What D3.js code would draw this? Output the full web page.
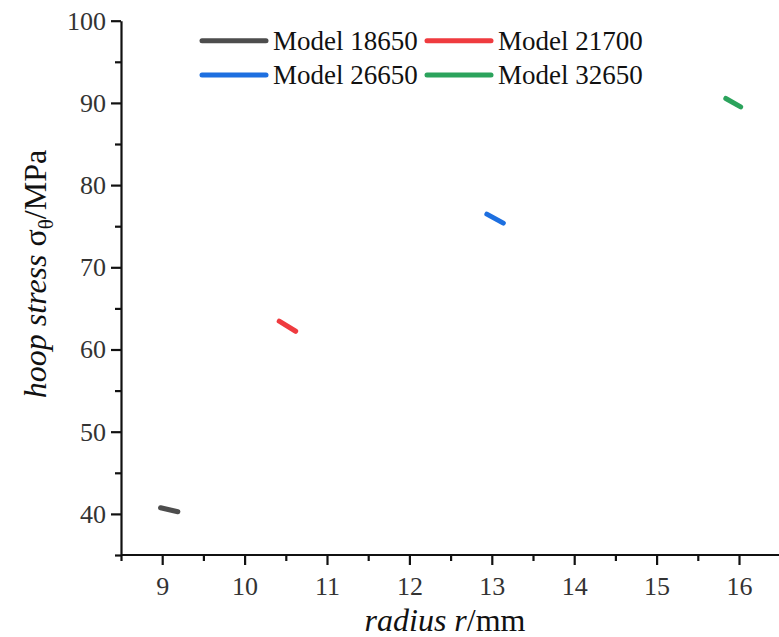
<!DOCTYPE html>
<html>
<head>
<meta charset="utf-8">
<script src="https://cdn.jsdelivr.net/npm/d3@7"></script>
<style>
  body { margin: 0; background: #fff; }
  svg { display: block; font-family: "Liberation Serif", "Times New Roman", serif; }
  .axis path, .axis line { stroke: #111; stroke-width: 2.2; }
</style>
</head>
<body>
<div id="chart"></div>
<script>
// data: [radius mm, hoop stress MPa]
const modelNames = ['Model 18650', 'Model 21700', 'Model 26650', 'Model 32650'];
const modelColors = ['#4d4d4d', '#ef3b3f', '#1d6fe0', '#2ba35c'];
const model18650 = [[8.98, 40.75], [9.19, 40.26]];
const model21700 = [[10.42, 63.44], [10.62, 62.22]];
const model26650 = [[12.94, 76.47], [13.14, 75.37]];
const model32650 = [[15.84, 90.54], [16.02, 89.51]];
const seriesData = [model18650, model21700, model26650, model32650];

const xTicks = [9, 10, 11, 12, 13, 14, 15, 16];
const xMinor = [8.5, 9.5, 10.5, 11.5, 12.5, 13.5, 14.5, 15.5, 16.5];
const yTicks = [40, 50, 60, 70, 80, 90, 100];
const yMinor = [35, 45, 55, 65, 75, 85, 95];

const width = 779, height = 637;
const margin = {top: 20.7, right: 0, bottom: 82, left: 121};

const svg = d3.select('#chart').append('svg')
    .attr('width', width)
    .attr('height', height);

const x = d3.scaleLinear().domain([8.5, 16.5]).range([margin.left, margin.left + 8 * 82.4]);
const y = d3.scaleLinear().domain([35, 100]).range([height - margin.bottom, margin.top]);

// minor ticks first, no labels
svg.append('g')
    .attr('class', 'axis')
    .attr('transform', `translate(0,${y(35)})`)
    .call(d3.axisBottom(x).tickValues(xMinor).tickSize(6).tickFormat(''))
    .call(g => g.select('.domain').remove());

svg.append('g')
    .attr('class', 'axis')
    .attr('transform', `translate(${x(8.5)},0)`)
    .call(d3.axisLeft(y).tickValues(yMinor).tickSize(6).tickFormat(''))
    .call(g => g.select('.domain').remove());

const xAxis = svg.append('g')
    .attr('class', 'axis')
    .attr('transform', `translate(0,${y(35)})`)
    .call(d3.axisBottom(x).tickValues(xTicks).tickSize(10).tickPadding(12).tickSizeOuter(0));

const yAxis = svg.append('g')
    .attr('class', 'axis')
    .attr('transform', `translate(${x(8.5)},0)`)
    .call(d3.axisLeft(y).tickValues(yTicks).tickSize(10).tickPadding(5).tickSizeOuter(0));

xAxis.select('.domain').attr('d', `M${x(8.5)},0H${width + 5}`);

svg.selectAll('.axis').attr('font-family', '"Liberation Serif", serif');
svg.selectAll('.axis text')
    .attr('font-family', '"Liberation Serif", serif')
    .attr('font-size', 26)
    .attr('fill', '#333');

// axis titles
const xTitle = svg.append('text')
    .attr('x', 445)
    .attr('y', 631)
    .attr('text-anchor', 'middle')
    .style('font-size', '32px')
    .attr('fill', '#111');
xTitle.append('tspan').style('font-style', 'italic').text('radius r');
xTitle.append('tspan').text('/mm');

const yTitle = svg.append('text')
    .attr('transform', 'translate(46,274) rotate(-90)')
    .attr('text-anchor', 'middle')
    .style('font-size', '32px')
    .attr('fill', '#111');
yTitle.append('tspan').style('font-style', 'italic').text('hoop stress ');
yTitle.append('tspan').text('σ');
yTitle.append('tspan').attr('dy', 7).style('font-size', '21px').text('θ');
yTitle.append('tspan').attr('dy', -7).text('/MPa');

// data segments
const line = d3.line().x(d => x(d[0])).y(d => y(d[1]));

svg.append('g')
    .selectAll('path')
    .data(seriesData)
    .join('path')
    .attr('d', line)
    .attr('fill', 'none')
    .attr('stroke', (d, i) => modelColors[i])
    .attr('stroke-width', 5)
    .attr('stroke-linecap', 'round');

// legend, two columns x two rows
const legendPos = [[202, 40.7], [427, 40.7], [202, 75], [427, 75]];
const legend = svg.append('g')
    .selectAll('g')
    .data(modelNames)
    .join('g')
    .attr('transform', (d, i) => `translate(${legendPos[i][0]},${legendPos[i][1]})`);

legend.append('line')
    .attr('x1', 0).attr('x2', 64)
    .attr('stroke', (d, i) => modelColors[i])
    .attr('stroke-width', 5)
    .attr('stroke-linecap', 'round');

legend.append('text')
    .attr('x', 71)
    .attr('dy', '0.35em')
    .style('font-size', '27px')
    .attr('fill', '#111')
    .text(d => d);
</script>
</body>
</html>
